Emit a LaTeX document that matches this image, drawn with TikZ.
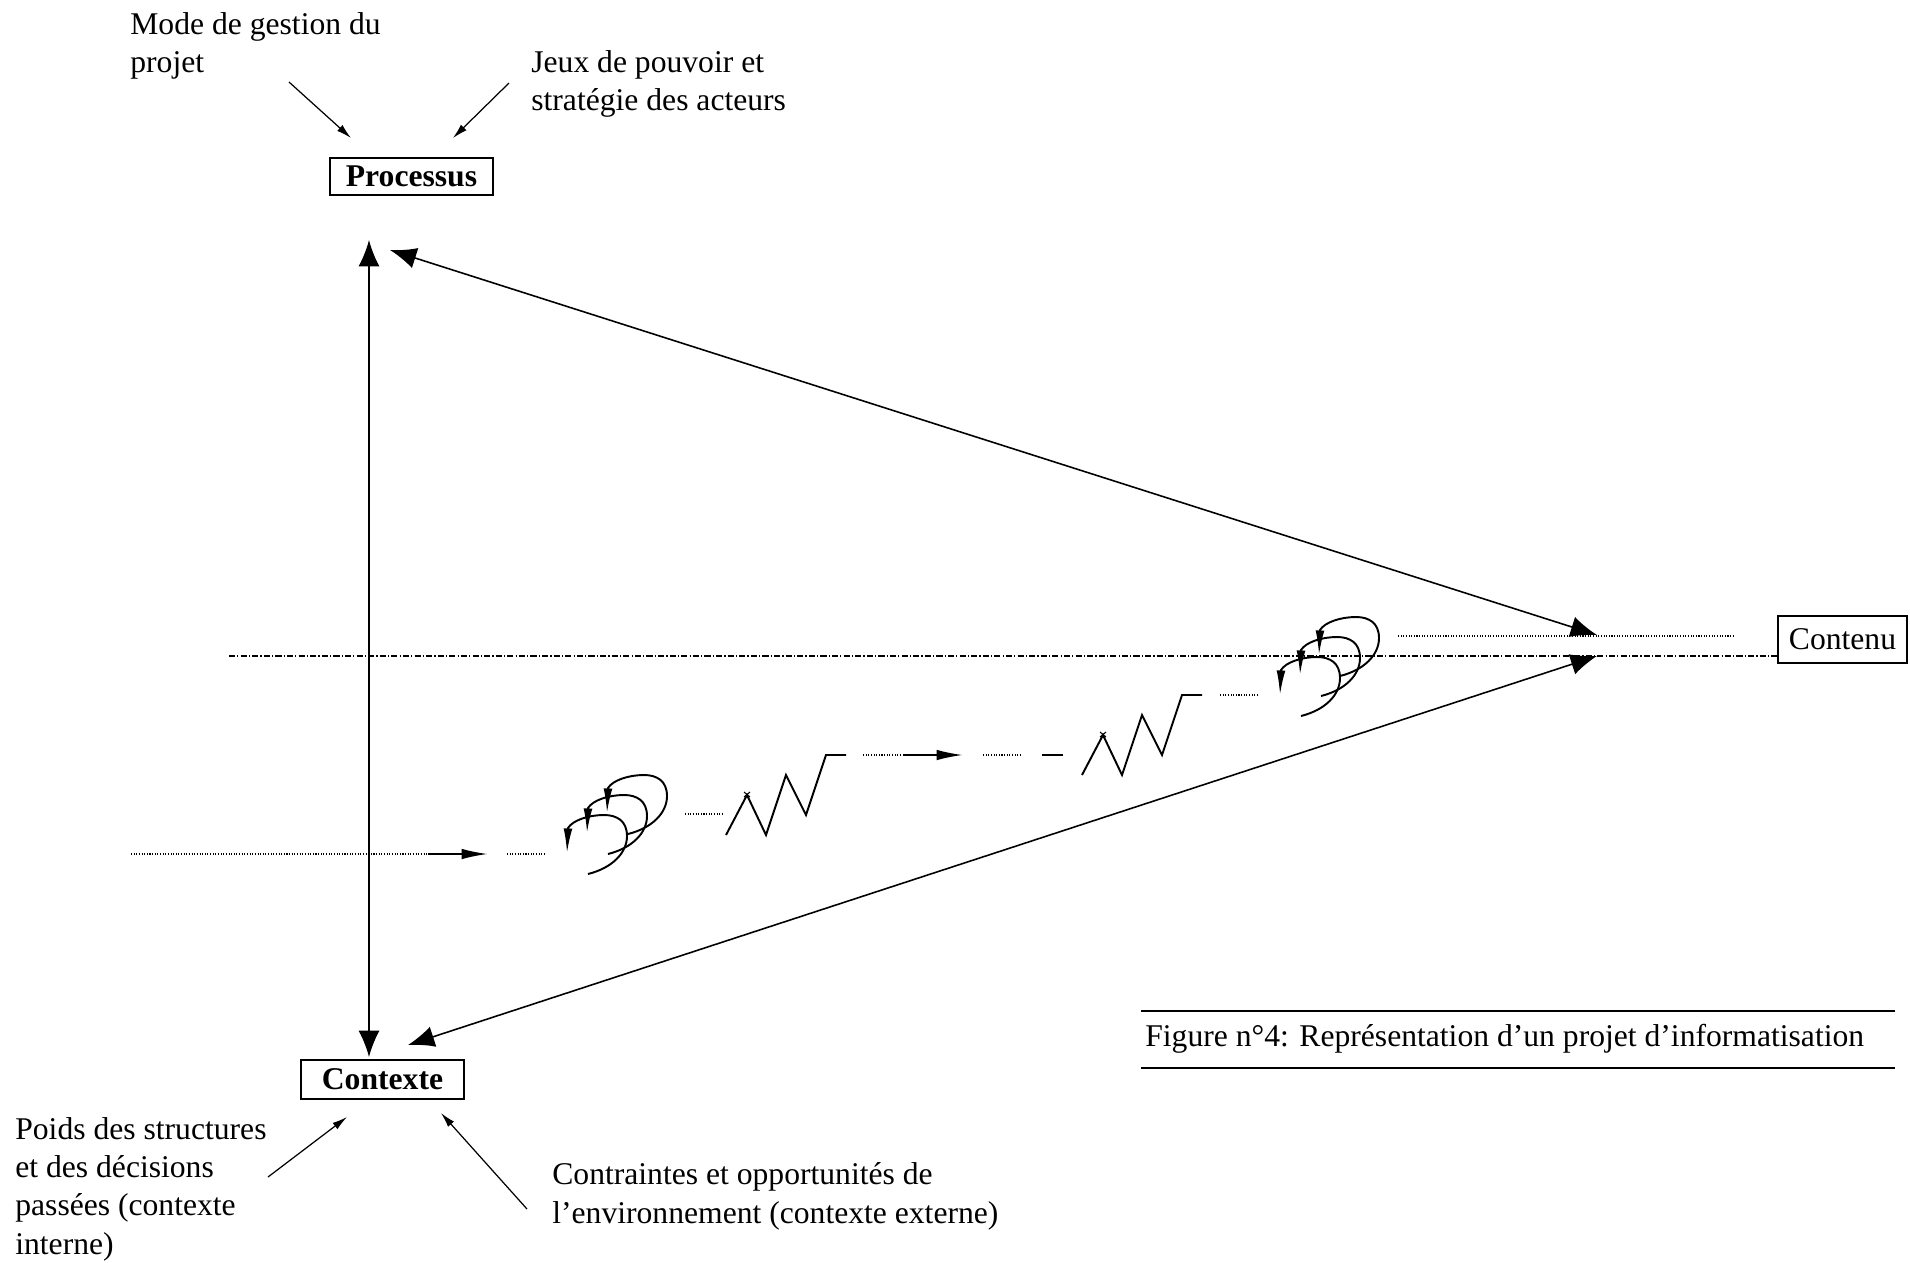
\documentclass[tikz,border=0pt]{standalone}
\usepackage{fontspec}
\setmainfont{Liberation Serif}
\usetikzlibrary{arrows.meta}
\tikzset{
  txt/.style={font=\fontsize{18}{21.8}\selectfont, align=left, inner sep=0pt, anchor=base west},
  boxnode/.style={draw, line width=0.9pt, inner sep=0pt, font=\fontsize{18}{22}\selectfont},
  mainarrow/.style={line width=0.9pt, {Latex[length=15pt,width=12pt]}-{Latex[length=15pt,width=12pt]}},
  feed/.style={line width=0.7pt, -{Latex[length=8.5pt,width=4.5pt]}},
  dotline/.style={line width=0.6pt, dash pattern=on 0.6pt off 0.9pt},
  axisline/.style={line width=0.7pt, dash pattern=on 3.5pt off 1.2pt on 0.7pt off 1.2pt},
  flowarrow/.style={line width=1.1pt, -{Latex[length=15pt,width=6pt]}},
  loopline/.style={line width=1.1pt, -{Latex[length=14pt,width=5pt]}},
  zig/.style={line width=1.1pt},
  rule/.style={line width=1.1pt}
}
\begin{document}
\begin{tikzpicture}[x=0.02cm,y=-0.02cm]
\useasboundingbox (0,0) rectangle (1910,1262);
\clip (0,0) rectangle (1910,1262);

% boxes
\node[boxnode, minimum width=3.26cm, minimum height=0.74cm] (processus) at (411.5,176.5) {\bfseries Processus};
\node[boxnode, minimum width=3.26cm, minimum height=0.78cm] (contexte) at (382.5,1079.5) {\bfseries Contexte};
\node[boxnode, minimum width=2.58cm, minimum height=0.94cm] (contenu) at (1842.5,639.5) {Contenu};

% labels (anchor = baseline of last line)
\node[txt] (lblmode) at (130,72.5) {Mode de gestion du\\projet};
\node[txt] (lbljeux) at (531,110.5) {Jeux de pouvoir et\\stratégie des acteurs};
\node[txt] (lblpoids) at (15,1254) {Poids des structures\\et des décisions\\passées (contexte\\interne)};
\node[txt] (lblcontr) at (552,1223) {Contraintes et opportunités de\\l’environnement (contexte externe)};
\node[txt] (caption) at (1145,1046) {Figure n°4: Représentation d’un projet d’informatisation};
\draw[rule] (1141,1011) -- (1895,1011);
\draw[rule] (1141,1068) -- (1895,1068);

% feed arrows
\coordinate (m0) at (289,82);   \coordinate (m1) at (351,138);
\coordinate (j0) at (509,83);   \coordinate (j1) at (453,138);
\coordinate (p0) at (268,1177); \coordinate (p1) at (347,1117);
\coordinate (c0) at (527,1209); \coordinate (c1) at (441,1113);
\draw[feed] (m0) -- (m1);
\draw[feed] (j0) -- (j1);
\draw[feed] (p0) -- (p1);
\draw[feed] (c0) -- (c1);

% axis lines
\coordinate (axL) at (229,656);
\draw[axisline] (axL) -- (contenu.west |- axL);
\coordinate (dtL) at (1398,636); \coordinate (dtR) at (1735,636);
\draw[dotline] (dtL) -- (dtR);

% triangle
\coordinate (vP) at (369,240);
\coordinate (vC) at (369,1057);
\coordinate (dP) at (390,250);
\coordinate (dC) at (408,1045);
\coordinate (tU) at (1597,635);
\coordinate (tL) at (1597,656);
\draw[mainarrow] (vP) -- (vC);
\draw[mainarrow] (dP) -- (tU);
\draw[mainarrow] (dC) -- (tL);

% flow
\coordinate (f1) at (131,854); \coordinate (f2) at (428,854); \coordinate (f3) at (488,854);
\draw[dotline] (f1) -- (f2);
\draw[flowarrow] (f2) -- (f3);
\coordinate (f4) at (507,854); \coordinate (f5) at (545,854);
\draw[dotline] (f4) -- (f5);
\coordinate (g1) at (685,814); \coordinate (g2) at (723,814);
\draw[dotline] (g1) -- (g2);
\coordinate (h1) at (863,755); \coordinate (h2) at (903,755); \coordinate (h3) at (963,755);
\draw[dotline] (h1) -- (h2);
\draw[flowarrow] (h2) -- (h3);
\coordinate (h4) at (983,755); \coordinate (h5) at (1020,755);
\draw[dotline] (h4) -- (h5);
\coordinate (h6) at (1042,755); \coordinate (h7) at (1063,755);
\draw[zig] (h6) -- (h7);
\coordinate (k1) at (1220,695); \coordinate (k2) at (1258,695);
\draw[dotline] (k1) -- (k2);

% loops
\foreach \tx/\ty in {567/853,587/833,607/813,1280/695,1300/675,1319/655}{
  \draw[loopline, shift={(\tx,\ty)}] (21,21) .. controls (45,15) and (60,0) .. (60,-17)
     .. controls (60,-32) and (50,-38) .. (37,-38)
     .. controls (22,-38) and (6,-33) .. (1,-25) -- (0,0);
}

% zigzags
\foreach \zx/\zy in {726/835,1082/775}{
  \draw[zig, shift={(\zx,\zy)}] (0,0) -- (21,-40) -- (40,0) -- (60,-60) -- (80,-20) -- (100,-80) -- (120,-80);
  \draw[line width=0.6pt, shift={(\zx,\zy)}] (18,-43) -- (24,-38) (24,-43) -- (18,-38);
}
\end{tikzpicture}
\end{document}
